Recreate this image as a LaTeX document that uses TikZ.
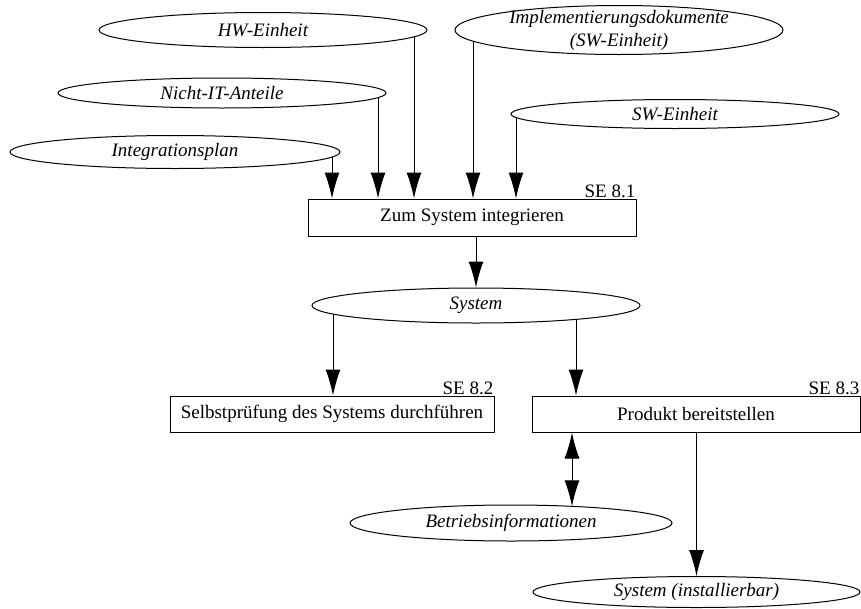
\documentclass[tikz,border=0pt]{standalone}
\usepackage{fontspec}
\setmainfont{Liberation Serif}
\usetikzlibrary{shapes.geometric,arrows.meta}

\begin{document}
\begin{tikzpicture}[x=1pt,y=-1pt,
    font=\fontsize{19}{23}\selectfont,
    proc/.style={draw, line width=1pt, rectangle, minimum width=328pt, minimum height=37pt, inner sep=0pt},
    doc/.style={draw, line width=1pt, ellipse, minimum width=328pt, minimum height=33pt, inner sep=0pt, font=\fontsize{19}{23}\selectfont\itshape},
    arr/.style={line width=1pt, -{Latex[length=26pt,width=15pt]}},
    dblarr/.style={line width=1pt, {Latex[length=26pt,width=15pt]}-{Latex[length=26pt,width=15pt]}},
    se/.style={anchor=south east, inner sep=1pt}]
    \useasboundingbox (0,0) rectangle (861,608);

    % inputs
    \node[doc, minimum height=35pt] (hw) at (263,30) {HW-Einheit};
    \node[doc, minimum height=30pt] (nit) at (222,93) {Nicht-IT-Anteile};
    \node[doc, minimum width=330pt] (iplan) at (175,152) {Integrationsplan};
    \node[doc, minimum height=49pt, inner ysep=-8pt, align=center] (impl) at (619,30) {Implementierungsdokumente\\(SW-Einheit)};
    \node[doc, minimum height=29pt] (swe) at (675,114) {SW-Einheit};

    % SE 8.1
    \node[proc] (integ) at (472,217.5) {Zum System integrieren};
    \node[se] at (integ.north east) {SE 8.1};
    \draw[arr] ([shift={(157,5.1)}]iplan.center) -- ([xshift=157pt]iplan.center |- integ.north);
    \draw[arr] ([shift={(156,4.6)}]nit.center) -- ([xshift=156pt]nit.center |- integ.north);
    \draw[arr] ([shift={(151,6.8)}]hw.center) -- ([xshift=151pt]hw.center |- integ.north);
    \draw[arr] ([shift={(-146,11.2)}]impl.center) -- ([xshift=-146pt]impl.center |- integ.north);
    \draw[arr] ([shift={(-159,3.6)}]swe.center) -- ([xshift=-159pt]swe.center |- integ.north);

    \node[doc, minimum height=35pt] (sys) at (476,305.5) {System};
    \draw[arr] (integ.south -| sys.north) -- (sys.north);

    % SE 8.2 / SE 8.3
    \node[proc, minimum width=324pt, minimum height=36pt] (selbst) at (332,414) {Selbstprüfung des Systems durchführen};
    \node[se] at (selbst.north east) {SE 8.2};
    \node[proc, minimum height=36pt] (prod) at (696,414) {Produkt bereitstellen};
    \node[se] at (prod.north east) {SE 8.3};
    \draw[arr] ([shift={(-143,8.6)}]sys.center) -- ([xshift=-143pt]sys.center |- selbst.north);
    \draw[arr] ([shift={(100,13.9)}]sys.center) -- ([xshift=100pt]sys.center |- prod.north);

    % outputs
    \node[doc, minimum width=322pt, minimum height=36pt] (betrieb) at (511,523) {Betriebsinformationen};
    \node[doc, minimum width=327pt, minimum height=31pt] (inst) at (696.5,592) {System (installierbar)};
    \draw[dblarr] ([xshift=61pt]betrieb.center |- prod.south) -- ([shift={(61,-16.7)}]betrieb.center);
    \draw[arr] (prod.south -| inst.north) -- (inst.north);
\end{tikzpicture}
\end{document}
